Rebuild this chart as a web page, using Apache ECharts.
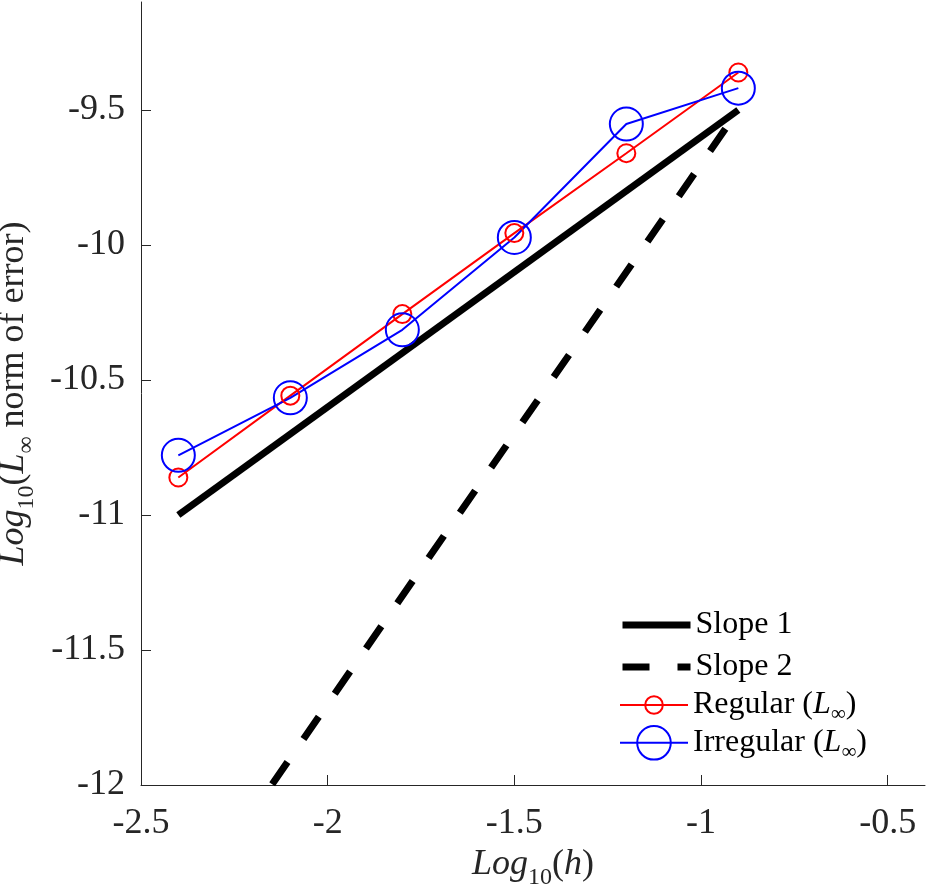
<!DOCTYPE html>
<html>
<head>
<meta charset="utf-8">
<script src="https://cdn.jsdelivr.net/npm/echarts@6/dist/echarts.min.js"></script>
<style>
html, body { margin: 0; padding: 0; background: #fff; }
#chart { width: 927px; height: 886px; }
</style>
</head>
<body>
<div id="chart"></div>
<script>
// 数据
var logH = [-2.4, -2.1, -1.8, -1.5, -1.2, -0.9];
var regularErr = [-10.861, -10.558, -10.256, -9.956, -9.660, -9.361];
var irregularErr = [-10.779, -10.566, -10.314, -9.972, -9.552, -9.419];
var slopeX = [-2.4, -0.9];
var slope1Y = [-11, -9.5];
var slope2Y = [-12.5, -9.5];
var xTicks = [-2.5, -2, -1.5, -1, -0.5];
var yTicks = [-12, -11.5, -11, -10.5, -10, -9.5];

var FONT = 'Liberation Serif, DejaVu Serif, serif';
var AXIS_COLOR = '#262626';

function pairs(xs, ys) {
    return xs.map(function (x, i) { return [x, ys[i]]; });
}

var nameRich = {
    i: { fontFamily: FONT, fontStyle: 'italic', fontSize: 36, lineHeight: 50, verticalAlign: 'middle', color: AXIS_COLOR },
    s: { fontFamily: FONT, fontSize: 24, lineHeight: 50, verticalAlign: 'bottom', color: AXIS_COLOR },
    n: { fontFamily: FONT, fontSize: 36, lineHeight: 50, verticalAlign: 'middle', color: AXIS_COLOR }
};

var legendRich = {
    i: { fontFamily: FONT, fontStyle: 'italic', fontSize: 32, lineHeight: 40, verticalAlign: 'middle', color: '#000' },
    s: { fontFamily: FONT, fontSize: 21, lineHeight: 40, verticalAlign: 'bottom', color: '#000' },
    n: { fontFamily: FONT, fontSize: 32, lineHeight: 40, verticalAlign: 'middle', color: '#000' }
};

function legendLabel(name) {
    if (name.indexOf('(L') > -1) {
        return '{n|' + name.split(' (')[0] + ' (}{i|L}{s|∞}{n|)}';
    }
    return '{n|' + name + '}';
}

var myChart = echarts.init(document.getElementById('chart'), null, { renderer: 'canvas' });

var option = {
    backgroundColor: '#fff',
    animation: false,
    textStyle: { fontFamily: FONT },
    grid: { left: 141, right: 2, top: 2, bottom: 101, containLabel: false, outerBoundsMode: 'none' },
    xAxis: {
        type: 'value',
        min: -2.5, max: -0.4, interval: 0.5,
        name: '{i|Log}{s|10}{n|(}{i|h}{n|)}',
        nameLocation: 'middle', nameGap: 47,
        nameTextStyle: { fontFamily: FONT, rich: nameRich },
        axisLine: { show: true, onZero: false, lineStyle: { color: AXIS_COLOR, width: 1 } },
        axisTick: { inside: true, length: 10, customValues: xTicks, lineStyle: { color: AXIS_COLOR } },
        axisLabel: {
            margin: 21, color: AXIS_COLOR, fontFamily: FONT, fontSize: 36,
            customValues: xTicks
        },
        splitLine: { show: false }
    },
    yAxis: {
        type: 'value',
        min: -12, max: -9.1, interval: 0.5,
        name: '{i|Log}{s|10}{n|(}{i|L}{s|∞}{n| norm of error)}',
        nameLocation: 'middle', nameGap: 102, nameRotate: 90,
        nameTextStyle: { fontFamily: FONT, rich: nameRich },
        axisLine: { show: true, onZero: false, lineStyle: { color: AXIS_COLOR, width: 1 } },
        axisTick: { inside: true, length: 10, customValues: yTicks, lineStyle: { color: AXIS_COLOR } },
        axisLabel: {
            margin: 16, color: AXIS_COLOR, fontFamily: FONT, fontSize: 36,
            customValues: yTicks
        },
        splitLine: { show: false }
    },
    legend: [
        {
            data: ['Slope 1', 'Slope 2'],
            orient: 'vertical', left: 619, top: 609, padding: 0,
            itemWidth: 68, itemHeight: 30, itemGap: 10,
            itemStyle: { color: 'rgba(0,0,0,0)', borderWidth: 0, opacity: 0 },
            lineStyle: { width: 7 },
            formatter: legendLabel,
            textStyle: { fontFamily: FONT, rich: legendRich }
        },
        {
            data: ['Regular (L∞)'],
            orient: 'vertical', left: 619, top: 689, padding: 0,
            itemWidth: 68, itemHeight: 22,
            itemStyle: { color: 'rgba(0,0,0,0)', borderColor: '#ff0000', borderWidth: 2 },
            lineStyle: { width: 2 },
            formatter: legendLabel,
            textStyle: { fontFamily: FONT, rich: legendRich }
        },
        {
            data: ['Irregular (L∞)'],
            orient: 'vertical', left: 619, top: 725, padding: 0,
            itemWidth: 68, itemHeight: 42,
            itemStyle: { color: 'rgba(0,0,0,0)', borderColor: '#0000ff', borderWidth: 2 },
            lineStyle: { width: 2 },
            formatter: legendLabel,
            textStyle: { fontFamily: FONT, rich: legendRich }
        }
    ],
    series: [
        {
            name: 'Slope 1', type: 'line', symbol: 'none',
            data: pairs(slopeX, slope1Y),
            color: '#000',
            lineStyle: { color: '#000', width: 7, cap: 'butt' }
        },
        {
            name: 'Slope 2', type: 'line', symbol: 'none',
            data: pairs(slopeX, slope2Y),
            color: '#000',
            lineStyle: { color: '#000', width: 7, type: [27, 28], cap: 'butt' }
        },
        {
            name: 'Regular (L∞)', type: 'line', symbol: 'circle', symbolSize: 18,
            data: pairs(logH, regularErr),
            color: '#ff0000',
            lineStyle: { color: '#ff0000', width: 2 },
            itemStyle: { color: 'rgba(0,0,0,0)', borderColor: '#ff0000', borderWidth: 2 }
        },
        {
            name: 'Irregular (L∞)', type: 'line', symbol: 'circle', symbolSize: 33,
            data: pairs(logH, irregularErr),
            color: '#0000ff',
            lineStyle: { color: '#0000ff', width: 2 },
            itemStyle: { color: 'rgba(0,0,0,0)', borderColor: '#0000ff', borderWidth: 2 }
        }
    ]
};

myChart.setOption(option);
</script>
</body>
</html>
